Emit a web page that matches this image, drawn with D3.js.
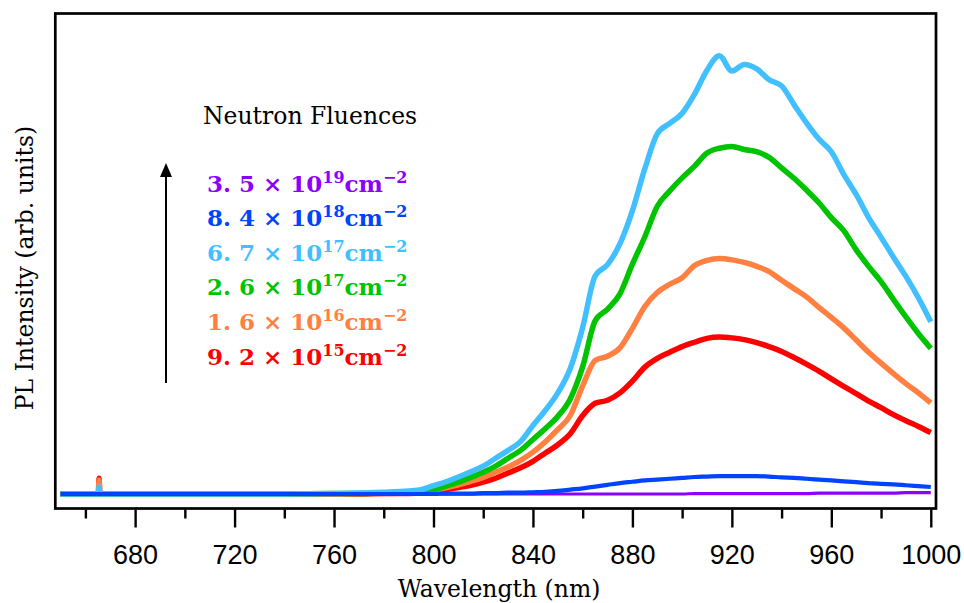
<!DOCTYPE html>
<html>
<head>
<meta charset="utf-8">
<script src="https://cdn.jsdelivr.net/npm/d3@7"></script>
<style>
  body { margin: 0; background: #fff; }
</style>
</head>
<body>
<div id="canvas"></div>
<script>
// wavelength grid (nm), shared by all spectra
var wavelengths = [650, 665.2, 665.5, 665.8, 680, 700, 720, 740, 760, 770, 780, 790,
  795, 800, 805, 810, 815, 820, 825, 830, 835, 840, 845, 850, 855, 860, 865, 870, 875, 880,
  885, 890, 895, 900, 905, 910, 915, 920, 925, 930, 935, 940, 945, 950, 955, 960, 965, 970,
  975, 980, 985, 990, 995, 1000];

// PL intensity (arb. units)
var pl92e15 = [0, 0, 0.036, 0, 0, 0, 0, 0, 0, 0, 0.001, 0.001,
  0.002, 0.006, 0.010, 0.015, 0.020, 0.027, 0.036, 0.048, 0.060, 0.075, 0.094, 0.113, 0.138, 0.180,
  0.208, 0.215, 0.232, 0.259, 0.291, 0.311, 0.325, 0.338, 0.348, 0.357, 0.360, 0.358, 0.354, 0.347,
  0.338, 0.327, 0.313, 0.298, 0.282, 0.264, 0.247, 0.230, 0.213, 0.198, 0.182, 0.168, 0.155, 0.141];
var pl16e16 = [0, 0, 0.032, 0, 0, 0, 0, 0, 0, 0.001, 0.001, 0.002,
  0.003, 0.008, 0.014, 0.021, 0.029, 0.038, 0.050, 0.062, 0.077, 0.096, 0.120, 0.148, 0.180, 0.248,
  0.306, 0.316, 0.335, 0.380, 0.430, 0.462, 0.481, 0.496, 0.524, 0.536, 0.540, 0.537, 0.531, 0.522,
  0.510, 0.490, 0.471, 0.452, 0.428, 0.405, 0.381, 0.353, 0.325, 0.300, 0.276, 0.253, 0.232, 0.209];
var pl26e17 = [0, 0, 0.012, 0, 0, 0, 0, 0, 0.001, 0.001, 0.002, 0.003,
  0.004, 0.010, 0.018, 0.027, 0.038, 0.050, 0.064, 0.082, 0.100, 0.125, 0.150, 0.178, 0.218, 0.292,
  0.397, 0.424, 0.459, 0.527, 0.590, 0.660, 0.695, 0.725, 0.752, 0.782, 0.793, 0.797, 0.790, 0.785,
  0.772, 0.748, 0.724, 0.697, 0.668, 0.634, 0.604, 0.560, 0.522, 0.487, 0.446, 0.406, 0.368, 0.334];
var pl67e17 = [0, 0, 0.016, 0, 0, 0, 0, 0, 0.001, 0.002, 0.004, 0.007,
  0.010, 0.019, 0.028, 0.039, 0.051, 0.064, 0.082, 0.100, 0.120, 0.157, 0.192, 0.232, 0.288, 0.382,
  0.500, 0.526, 0.574, 0.650, 0.746, 0.826, 0.850, 0.873, 0.917, 0.972, 1.005, 0.970, 0.985, 0.975,
  0.950, 0.936, 0.893, 0.851, 0.814, 0.785, 0.733, 0.687, 0.634, 0.589, 0.543, 0.499, 0.450, 0.395];
var pl84e18 = [0, 0, 0, 0, 0, 0, 0, 0, 0, 0, 0, 0,
  0, 0, 0.001, 0.001, 0.001, 0.002, 0.002, 0.003, 0.003, 0.004, 0.005, 0.007, 0.010, 0.013,
  0.017, 0.021, 0.025, 0.028, 0.031, 0.033, 0.035, 0.037, 0.039, 0.040, 0.041, 0.041, 0.041, 0.041,
  0.040, 0.038, 0.037, 0.035, 0.033, 0.031, 0.029, 0.027, 0.025, 0.023, 0.022, 0.020, 0.018, 0.016];
var pl35e19 = [0, 0, 0, 0, 0, 0, 0, 0, 0, 0, 0, 0,
  0, 0, 0, 0, 0, 0, 0, 0, 0, 0, 0, 0, 0, 0,
  0, 0, 0, 0, 0, 0, 0, 0, 0.001, 0.001, 0.001, 0.001, 0.001, 0.001,
  0.001, 0.001, 0.001, 0.001, 0.002, 0.002, 0.002, 0.002, 0.002, 0.002, 0.002, 0.003, 0.003, 0.003];

// legend: mantissa, exponent, colour (top to bottom)
var legendMantissa = ["3. 5", "8. 4", "6. 7", "2. 6", "1. 6", "9. 2"];
var legendExponent = ["19", "18", "17", "17", "16", "15"];
var colors = ["#8B00FF", "#0044FF", "#42BFFF", "#00C400", "#FF8040", "#FF0000"];

var majorTicks = [680, 720, 760, 800, 840, 880, 920, 960, 1000];
var minorTicks = [660, 700, 740, 780, 820, 860, 900, 940, 980];

// draw order: back to front
var series = [
  {values: pl35e19, color: colors[0], width: 3.2},
  {values: pl92e15, color: colors[5], width: 5.5},
  {values: pl16e16, color: colors[4], width: 5.5},
  {values: pl26e17, color: colors[3], width: 5.5},
  {values: pl67e17, color: colors[2], width: 5.5},
  {values: pl84e18, color: colors[1], width: 4.2}
];

var W = 964, H = 603;
var frame = {left: 55.3, top: 13.5, right: 936, bottom: 508.5};

var svg = d3.select("#canvas")
  .append("svg")
  .attr("width", W)
  .attr("height", H);

var x = d3.scaleLinear()
  .domain([647.9, 1002.1])
  .range([frame.left, frame.right]);

var y = d3.scaleLinear()
  .domain([-0.0333, 1.102])
  .range([frame.bottom, frame.top]);

// spectra
var line = d3.line()
  .curve(d3.curveMonotoneX)
  .x(function(d) { return x(d[0]); })
  .y(function(d) { return y(d[1]); });

series.forEach(function(s) {
  svg.append("path")
    .datum(wavelengths.map(function(w, i) { return [w, s.values[i]]; }))
    .attr("fill", "none")
    .attr("stroke", s.color)
    .attr("stroke-width", s.width)
    .attr("stroke-linejoin", "round")
    .attr("d", line);
});

// frame
svg.append("rect")
  .attr("x", frame.left)
  .attr("y", frame.top)
  .attr("width", frame.right - frame.left)
  .attr("height", frame.bottom - frame.top)
  .attr("fill", "none")
  .attr("stroke", "#000")
  .attr("stroke-width", 2.7);

// x axis, major and minor ticks
var xAxis = svg.append("g")
  .attr("transform", "translate(0," + (frame.bottom + 1) + ")")
  .call(d3.axisBottom(x).tickValues(majorTicks).tickSize(18).tickSizeOuter(0).tickFormat(d3.format("d")));
xAxis.select(".domain").remove();
xAxis.selectAll(".tick line").attr("stroke-width", 2.4);
xAxis.selectAll(".tick text")
  .attr("y", 54)
  .attr("dy", 0)
  .style("font-family", "'Liberation Sans', Arial, sans-serif")
  .style("font-size", "27px")
  .attr("fill", "#000");

var xMinor = svg.append("g")
  .attr("transform", "translate(0," + (frame.bottom + 1) + ")")
  .call(d3.axisBottom(x).tickValues(minorTicks).tickSize(9).tickSizeOuter(0).tickFormat(""));
xMinor.select(".domain").remove();
xMinor.selectAll(".tick line").attr("stroke-width", 2.4);

// axis titles
svg.append("text")
  .attr("x", 499)
  .attr("y", 597)
  .attr("text-anchor", "middle")
  .style("font-family", "'DejaVu Serif', serif")
  .style("font-size", "23.5px")
  .text("Wavelength (nm)");

svg.append("text")
  .attr("transform", "translate(33,268) rotate(-90)")
  .attr("text-anchor", "middle")
  .style("font-family", "'DejaVu Serif', serif")
  .style("font-size", "23.5px")
  .text("PL Intensity (arb. units)");

// legend
svg.append("text")
  .attr("x", 203)
  .attr("y", 123.5)
  .style("font-family", "'DejaVu Serif', serif")
  .style("font-size", "23.5px")
  .text("Neutron Fluences");

var legend = svg.append("g")
  .style("font-family", "'DejaVu Serif', serif")
  .style("font-weight", "bold")
  .style("font-size", "23px");

legendMantissa.forEach(function(m, i) {
  var t = legend.append("text")
    .attr("x", 207)
    .attr("y", 191.5 + i * 34.6)
    .attr("fill", colors[i]);
  t.append("tspan").text(m + " \u00D7 10");
  t.append("tspan").attr("dy", -9).style("font-size", "16px").text(legendExponent[i]);
  t.append("tspan").attr("dy", 9).text("cm");
  t.append("tspan").attr("dy", -9).style("font-size", "16px").text("\u22122");
});

// arrow
svg.append("line")
  .attr("x1", 166).attr("y1", 383)
  .attr("x2", 166).attr("y2", 172)
  .attr("stroke", "#000")
  .attr("stroke-width", 2);
svg.append("path")
  .attr("d", "M166,163 L160,177 L172,177 Z")
  .attr("fill", "#000");
</script>
</body>
</html>
